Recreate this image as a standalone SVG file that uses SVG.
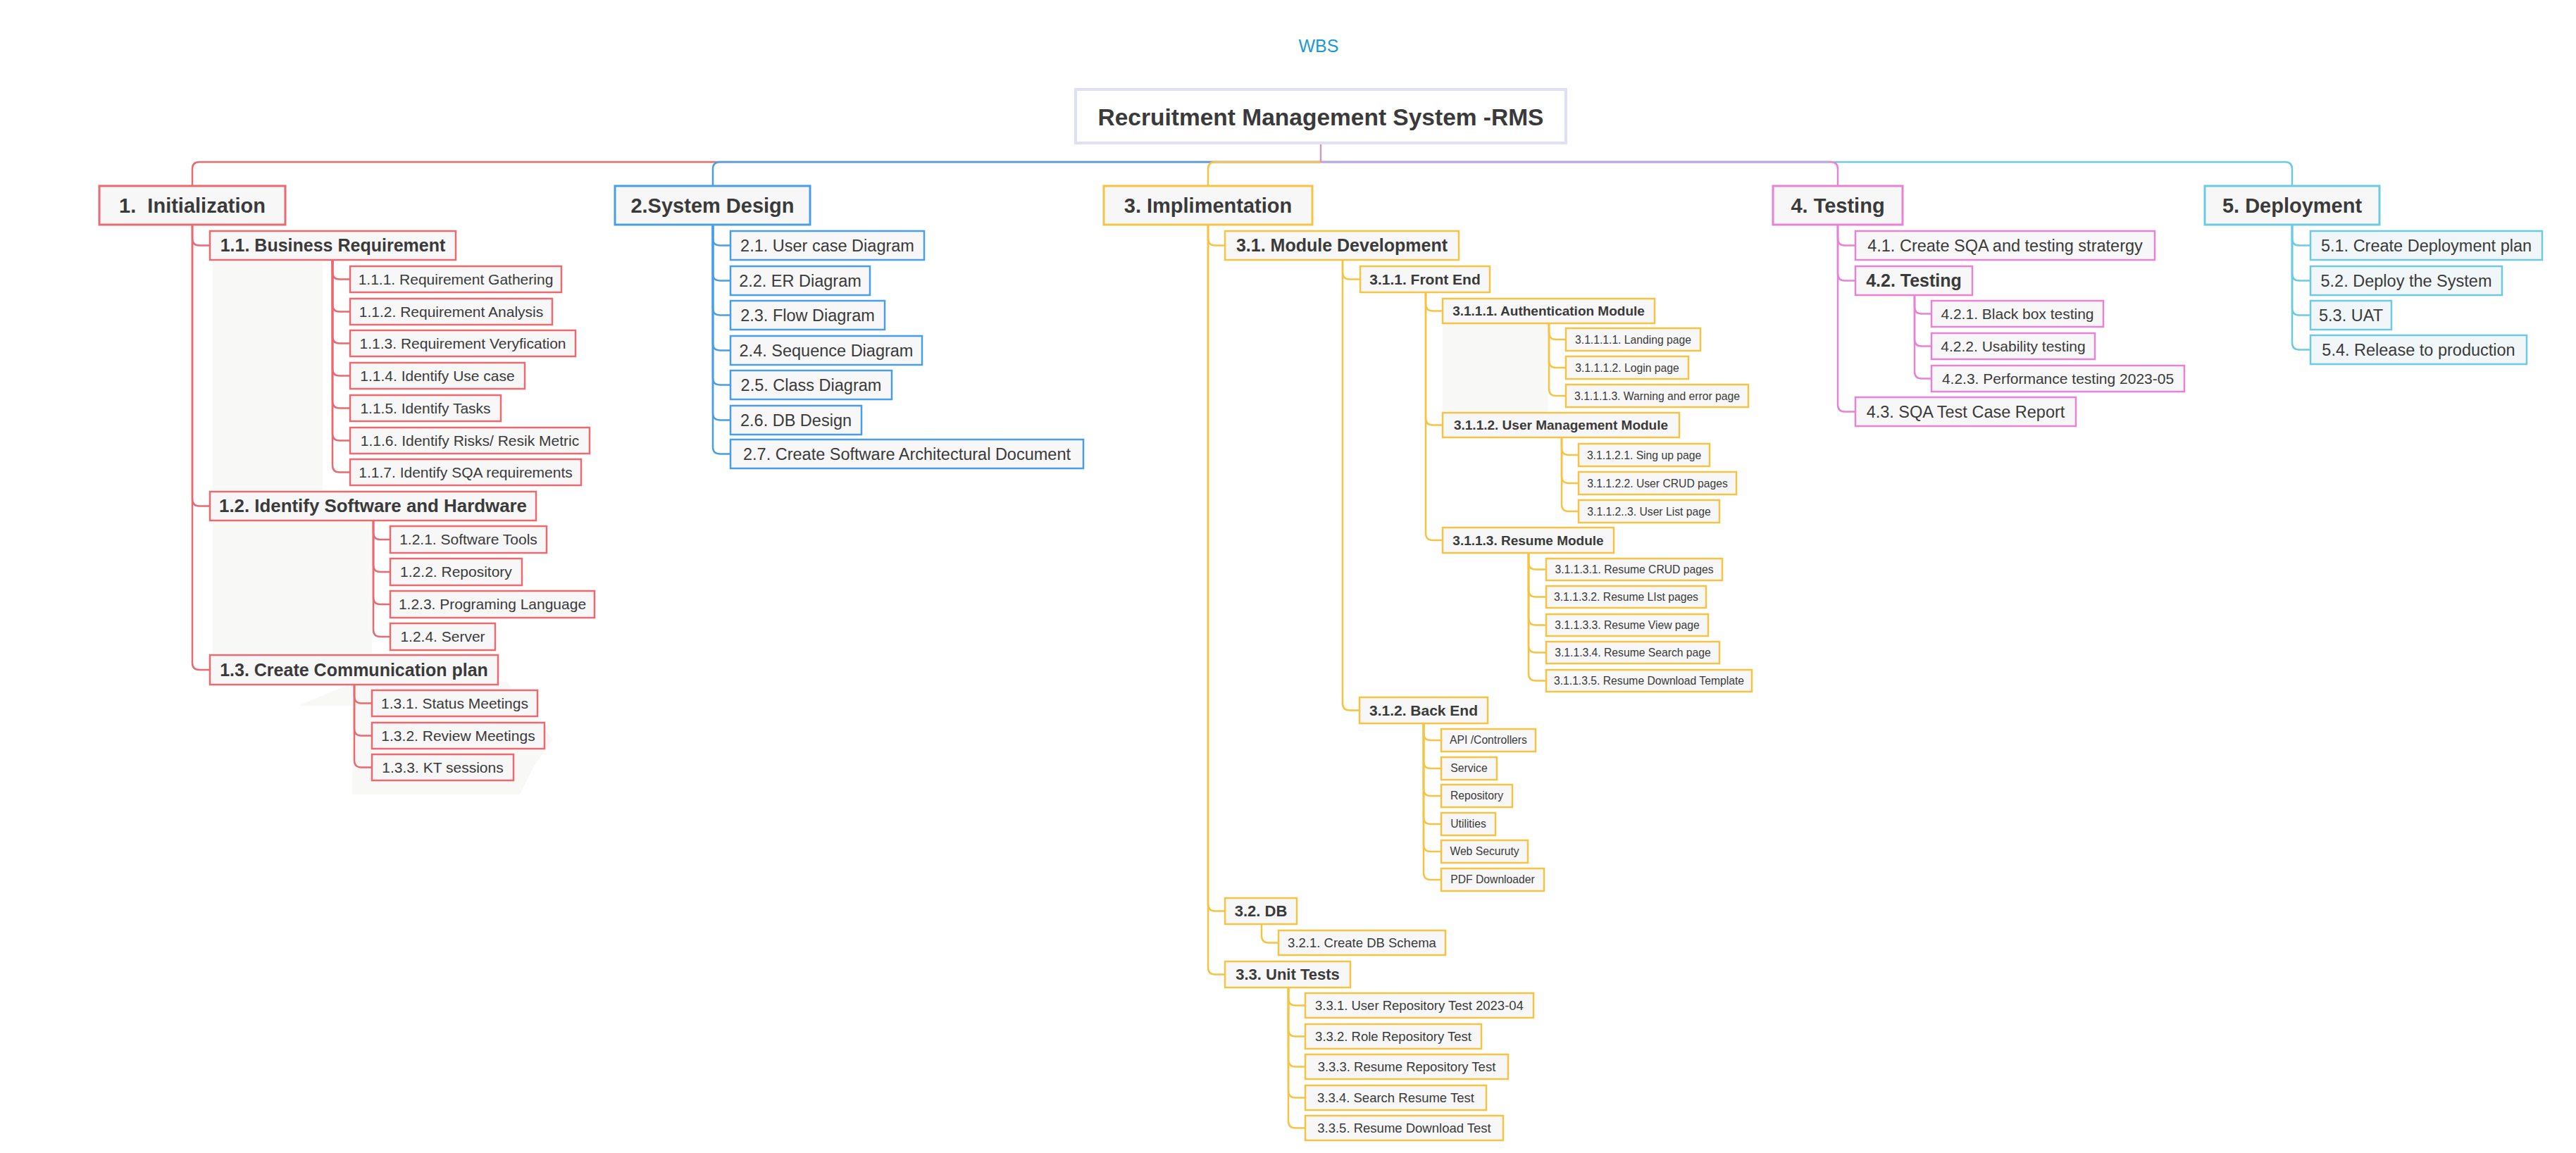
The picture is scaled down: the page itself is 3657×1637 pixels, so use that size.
<svg xmlns="http://www.w3.org/2000/svg" width="3657" height="1637" viewBox="0 0 3657 1637">
<style>
text{font-family:"Liberation Sans",Arial,sans-serif;fill:#3a3a3a;text-anchor:middle}
.t0{font-size:25px;fill:#1a9ad6}
.tr{font-size:33.5px;font-weight:bold}
.t1{font-size:29px;font-weight:bold}
.t2b{font-size:25px;font-weight:bold}
.t2{font-size:23.5px}
.t3{font-size:21px}
.t3b{font-size:21px;font-weight:bold}
.t3c{font-size:22px;font-weight:bold}
.t4b{font-size:19px;font-weight:bold}
.t4{font-size:18.5px}
.t5{font-size:15.7px}
rect{fill:#f7f7f7;stroke-width:2.5}
.L1{stroke-width:3}
.r rect{stroke:#e96a70}
.b rect{stroke:#4a9ee6}
.y rect{stroke:#f5c445}
.p rect{stroke:#e882d4}
.c rect{stroke:#6ccbe0}
.c .s{fill:#f1f7f8}
#connectors path{fill:none;stroke-width:2.5}
.cr{stroke:#e96a70}.cb{stroke:#4a9ee6}.cy{stroke:#f5c445}.cp{stroke:#e882d4}.cc{stroke:#6ccbe0}
.bg{fill:#f8f8f7;stroke:none}
</style>
<rect x="0" y="0" width="3657" height="1637" style="fill:#ffffff;stroke:none"/>
<g id="background">
<rect class="bg" x="302" y="371" width="156" height="324"/>
<rect class="bg" x="302" y="741" width="226" height="187"/>
<polygon class="bg" points="423,1002 505,968 720,968 785,1050 758,1088 738,1128 500,1128 500,1002"/>
<rect class="bg" x="2048" y="460" width="150" height="126"/>
</g>
<text id="title" class="t0" x="1872" y="74">WBS</text>
<g id="connectors">
<path class="cr" d="M1875,230 H283 Q273,230 273,240 V264"/>
<path class="cb" d="M1875,230 H1022 Q1012,230 1012,240 V264"/>
<path class="cy" d="M1875,230 H1725 Q1715,230 1715,240 V264"/>
<path class="cc" d="M1875,230 H3244 Q3254,230 3254,240 V264"/>
<path class="cp" d="M1875,230 H2599 Q2609,230 2609,240 V264"/>
<path style="stroke:#b8a8e2" d="M1877,230 H2596"/>
<path style="stroke:#d39ac0" d="M1875,203 V230"/>
<!-- branch 1 -->
<path class="cr" d="M273,319 V338.5 Q273,348.5 283,348.5 H298"/>
<path class="cr" d="M273,319 V708.5 Q273,718.5 283,718.5 H298"/>
<path class="cr" d="M273,319 V941 Q273,951 283,951 H298"/>
<path class="cr" d="M472,369 V386.5 Q472,396.5 482,396.5 H497"/>
<path class="cr" d="M472,369 V432.5 Q472,442.5 482,442.5 H497"/>
<path class="cr" d="M472,369 V477.5 Q472,487.5 482,487.5 H497"/>
<path class="cr" d="M472,369 V523.5 Q472,533.5 482,533.5 H497"/>
<path class="cr" d="M472,369 V569.5 Q472,579.5 482,579.5 H497"/>
<path class="cr" d="M472,369 V615.5 Q472,625.5 482,625.5 H497"/>
<path class="cr" d="M472,369 V660.5 Q472,670.5 482,670.5 H497"/>
<path class="cr" d="M530,739 V756 Q530,766 540,766 H554"/>
<path class="cr" d="M530,739 V802 Q530,812 540,812 H554"/>
<path class="cr" d="M530,739 V848 Q530,858 540,858 H554"/>
<path class="cr" d="M530,739 V894 Q530,904 540,904 H554"/>
<path class="cr" d="M503,972 V988.5 Q503,998.5 513,998.5 H528"/>
<path class="cr" d="M503,972 V1034.5 Q503,1044.5 513,1044.5 H528"/>
<path class="cr" d="M503,972 V1079.5 Q503,1089.5 513,1089.5 H528"/>
<!-- branch 2 -->
<path class="cb" d="M1012,319 V338.5 Q1012,348.5 1022,348.5 H1037"/>
<path class="cb" d="M1012,319 V388.5 Q1012,398.5 1022,398.5 H1037"/>
<path class="cb" d="M1012,319 V437.5 Q1012,447.5 1022,447.5 H1037"/>
<path class="cb" d="M1012,319 V487.5 Q1012,497.5 1022,497.5 H1037"/>
<path class="cb" d="M1012,319 V536.5 Q1012,546.5 1022,546.5 H1037"/>
<path class="cb" d="M1012,319 V586.5 Q1012,596.5 1022,596.5 H1037"/>
<path class="cb" d="M1012,319 V634.5 Q1012,644.5 1022,644.5 H1037"/>
<!-- branch 3 -->
<path class="cy" d="M1715,319 V338.5 Q1715,348.5 1725,348.5 H1739"/>
<path class="cy" d="M1715,319 V1283.5 Q1715,1293.5 1725,1293.5 H1739"/>
<path class="cy" d="M1715,319 V1373.5 Q1715,1383.5 1725,1383.5 H1739"/>
<path class="cy" d="M1906,369 V386.5 Q1906,396.5 1916,396.5 H1931"/>
<path class="cy" d="M1906,369 V998.5 Q1906,1008.5 1916,1008.5 H1930"/>
<path class="cy" d="M2024,415 V431.5 Q2024,441.5 2034,441.5 H2048"/>
<path class="cy" d="M2024,415 V593.5 Q2024,603.5 2034,603.5 H2048"/>
<path class="cy" d="M2024,415 V757 Q2024,767 2034,767 H2048"/>
<path class="cy" d="M2199,459 V472 Q2199,482 2209,482 H2223"/>
<path class="cy" d="M2199,459 V512 Q2199,522 2209,522 H2223"/>
<path class="cy" d="M2199,459 V552 Q2199,562 2209,562 H2223"/>
<path class="cy" d="M2217,621 V636 Q2217,646 2227,646 H2241"/>
<path class="cy" d="M2217,621 V676 Q2217,686 2227,686 H2241"/>
<path class="cy" d="M2217,621 V716 Q2217,726 2227,726 H2241"/>
<path class="cy" d="M2170,785 V798.5 Q2170,808.5 2180,808.5 H2195"/>
<path class="cy" d="M2170,785 V837.5 Q2170,847.5 2180,847.5 H2195"/>
<path class="cy" d="M2170,785 V877.5 Q2170,887.5 2180,887.5 H2195"/>
<path class="cy" d="M2170,785 V916.5 Q2170,926.5 2180,926.5 H2195"/>
<path class="cy" d="M2170,785 V956.5 Q2170,966.5 2180,966.5 H2195"/>
<path class="cy" d="M2021,1027 V1041 Q2021,1051 2031,1051 H2046"/>
<path class="cy" d="M2021,1027 V1081 Q2021,1091 2031,1091 H2046"/>
<path class="cy" d="M2021,1027 V1120 Q2021,1130 2031,1130 H2046"/>
<path class="cy" d="M2021,1027 V1160 Q2021,1170 2031,1170 H2046"/>
<path class="cy" d="M2021,1027 V1199 Q2021,1209 2031,1209 H2046"/>
<path class="cy" d="M2021,1027 V1239 Q2021,1249 2031,1249 H2046"/>
<path class="cy" d="M1791,1312 V1328.5 Q1791,1338.5 1801,1338.5 H1815"/>
<path class="cy" d="M1829,1402 V1417.5 Q1829,1427.5 1839,1427.5 H1853"/>
<path class="cy" d="M1829,1402 V1461.5 Q1829,1471.5 1839,1471.5 H1853"/>
<path class="cy" d="M1829,1402 V1504.5 Q1829,1514.5 1839,1514.5 H1853"/>
<path class="cy" d="M1829,1402 V1548.5 Q1829,1558.5 1839,1558.5 H1853"/>
<path class="cy" d="M1829,1402 V1591.5 Q1829,1601.5 1839,1601.5 H1853"/>
<!-- branch 4 -->
<path class="cp" d="M2609,319 V338.5 Q2609,348.5 2619,348.5 H2634"/>
<path class="cp" d="M2609,319 V388.5 Q2609,398.5 2619,398.5 H2634"/>
<path class="cp" d="M2609,319 V574.5 Q2609,584.5 2619,584.5 H2634"/>
<path class="cp" d="M2718,419 V435.5 Q2718,445.5 2728,445.5 H2742"/>
<path class="cp" d="M2718,419 V481.5 Q2718,491.5 2728,491.5 H2742"/>
<path class="cp" d="M2718,419 V527.5 Q2718,537.5 2728,537.5 H2742"/>
<!-- branch 5 -->
<path class="cc" d="M3254,319 V338.5 Q3254,348.5 3264,348.5 H3280"/>
<path class="cc" d="M3254,319 V388.5 Q3254,398.5 3264,398.5 H3280"/>
<path class="cc" d="M3254,319 V437.5 Q3254,447.5 3264,447.5 H3280"/>
<path class="cc" d="M3254,319 V486.5 Q3254,496.5 3264,496.5 H3280"/>
</g>
<g id="n-root"><rect x="1527" y="127" width="696" height="76" style="stroke:#dfe0f8;stroke-width:4;fill:#ffffff"/><text class="tr" x="1875" y="177.5">Recruitment Management System -RMS</text></g>
<!-- Branch 1 -->
<g class="r">
<g id="n1"><rect class="L1" x="141" y="264" width="264" height="55"/><text class="t1" x="273" y="302" xml:space="preserve">1.  Initialization</text></g>
<g id="n1-1"><rect x="298" y="328" width="349" height="41"/><text class="t2b" x="472.5" y="357">1.1. Business Requirement</text></g>
<g id="n1-1-1"><rect x="497" y="378" width="300" height="37"/><text class="t3" x="647" y="404">1.1.1. Requirement Gathering</text></g>
<g id="n1-1-2"><rect x="497" y="424" width="287" height="37"/><text class="t3" x="640.5" y="450">1.1.2. Requirement Analysis</text></g>
<g id="n1-1-3"><rect x="497" y="469" width="320" height="37"/><text class="t3" x="657" y="495">1.1.3. Requirement Veryfication</text></g>
<g id="n1-1-4"><rect x="497" y="515" width="248" height="37"/><text class="t3" x="621" y="541">1.1.4. Identify Use case</text></g>
<g id="n1-1-5"><rect x="497" y="561" width="214" height="37"/><text class="t3" x="604" y="587">1.1.5. Identify Tasks</text></g>
<g id="n1-1-6"><rect x="497" y="607" width="340" height="37"/><text class="t3" x="667" y="633">1.1.6. Identify Risks/ Resik Metric</text></g>
<g id="n1-1-7"><rect x="497" y="652" width="328" height="37"/><text class="t3" x="661" y="678">1.1.7. Identify SQA requirements</text></g>
<g id="n1-2"><rect x="298" y="698" width="463" height="41"/><text class="t2b" x="529.5" y="727.3" textLength="437" lengthAdjust="spacingAndGlyphs">1.2. Identify Software and Hardware</text></g>
<g id="n1-2-1"><rect x="554" y="747" width="222" height="38"/><text class="t3" x="665" y="773.4">1.2.1. Software Tools</text></g>
<g id="n1-2-2"><rect x="554" y="793" width="187" height="38"/><text class="t3" x="647.5" y="819.4">1.2.2. Repository</text></g>
<g id="n1-2-3"><rect x="554" y="839" width="290" height="38"/><text class="t3" x="699" y="865.4">1.2.3. Programing Language</text></g>
<g id="n1-2-4"><rect x="554" y="885" width="149" height="38"/><text class="t3" x="628.5" y="911.4">1.2.4. Server</text></g>
<g id="n1-3"><rect x="298" y="930" width="409" height="42"/><text class="t2b" x="502.5" y="959.8">1.3. Create Communication plan</text></g>
<g id="n1-3-1"><rect x="528" y="980" width="235" height="37"/><text class="t3" x="645.5" y="1005.9">1.3.1. Status Meetings</text></g>
<g id="n1-3-2"><rect x="528" y="1026" width="245" height="37"/><text class="t3" x="650.5" y="1051.9">1.3.2. Review Meetings</text></g>
<g id="n1-3-3"><rect x="528" y="1071" width="201" height="37"/><text class="t3" x="628.5" y="1096.9">1.3.3. KT sessions</text></g>
</g>
<!-- Branch 2 -->
<g class="b">
<g id="n2"><rect class="L1" x="873" y="264" width="277" height="55"/><text class="t1" x="1011.5" y="302">2.System Design</text></g>
<g id="n2-1"><rect x="1037" y="328" width="275" height="41"/><text class="t2" x="1174.5" y="356.7">2.1. User case Diagram</text></g>
<g id="n2-2"><rect x="1037" y="378" width="198" height="41"/><text class="t2" x="1136" y="406.7">2.2. ER Diagram</text></g>
<g id="n2-3"><rect x="1037" y="427" width="219" height="41"/><text class="t2" x="1146.5" y="455.7">2.3. Flow Diagram</text></g>
<g id="n2-4"><rect x="1037" y="477" width="272" height="41"/><text class="t2" x="1173" y="505.7">2.4. Sequence Diagram</text></g>
<g id="n2-5"><rect x="1037" y="526" width="229" height="41"/><text class="t2" x="1151.5" y="554.7">2.5. Class Diagram</text></g>
<g id="n2-6"><rect x="1037" y="576" width="186" height="41"/><text class="t2" x="1130" y="604.7">2.6. DB Design</text></g>
<g id="n2-7"><rect x="1037" y="624" width="501" height="41"/><text class="t2" x="1287.5" y="652.7">2.7. Create Software Architectural Document</text></g>
</g>
<!-- Branch 3 -->
<g class="y">
<g id="n3"><rect class="L1" x="1567" y="264" width="296" height="55"/><text class="t1" x="1715" y="302">3. Implimentation</text></g>
<g id="n3-1"><rect x="1739" y="328" width="332" height="41"/><text class="t2b" x="1905" y="357">3.1. Module Development</text></g>
<g id="n3-1-1"><rect x="1931" y="378" width="184" height="37"/><text class="t3b" x="2023" y="403.9">3.1.1. Front End</text></g>
<g id="n3-1-1-1"><rect x="2048" y="424" width="301" height="35"/><text class="t4b" x="2198.5" y="448.2">3.1.1.1. Authentication Module</text></g>
<g id="n3-1-1-1-1"><rect x="2223" y="466" width="191" height="32"/><text class="t5" x="2318.5" y="487.5">3.1.1.1.1. Landing page</text></g>
<g id="n3-1-1-1-2"><rect x="2223" y="506" width="174" height="32"/><text class="t5" x="2310" y="527.5">3.1.1.1.2. Login page</text></g>
<g id="n3-1-1-1-3"><rect x="2223" y="546" width="259" height="32"/><text class="t5" x="2352.5" y="567.5">3.1.1.1.3. Warning and error page</text></g>
<g id="n3-1-1-2"><rect x="2048" y="586" width="336" height="35"/><text class="t4b" x="2216" y="610.2">3.1.1.2. User Management Module</text></g>
<g id="n3-1-1-2-1"><rect x="2241" y="630" width="186" height="32"/><text class="t5" x="2334" y="651.5">3.1.1.2.1. Sing up page</text></g>
<g id="n3-1-1-2-2"><rect x="2241" y="670" width="224" height="32"/><text class="t5" x="2353" y="691.5">3.1.1.2.2. User CRUD pages</text></g>
<g id="n3-1-1-2-3"><rect x="2241" y="710" width="200" height="32"/><text class="t5" x="2341" y="731.5">3.1.1.2..3. User List page</text></g>
<g id="n3-1-1-3"><rect x="2048" y="749" width="243" height="36"/><text class="t4b" x="2169.5" y="773.7">3.1.1.3. Resume Module</text></g>
<g id="n3-1-1-3-1"><rect x="2195" y="793" width="250" height="31"/><text class="t5" x="2320" y="814">3.1.1.3.1. Resume CRUD pages</text></g>
<g id="n3-1-1-3-2"><rect x="2195" y="832" width="227" height="31"/><text class="t5" x="2308.5" y="853">3.1.1.3.2. Resume LIst pages</text></g>
<g id="n3-1-1-3-3"><rect x="2195" y="872" width="230" height="31"/><text class="t5" x="2310" y="893">3.1.1.3.3. Resume View page</text></g>
<g id="n3-1-1-3-4"><rect x="2195" y="911" width="246" height="31"/><text class="t5" x="2318" y="932">3.1.1.3.4. Resume Search page</text></g>
<g id="n3-1-1-3-5"><rect x="2195" y="951" width="292" height="31"/><text class="t5" x="2341" y="972">3.1.1.3.5. Resume Download Template</text></g>
<g id="n3-1-2"><rect x="1930" y="990" width="182" height="37"/><text class="t3b" x="2021" y="1015.9">3.1.2. Back End</text></g>
<g id="n3-1-2-1"><rect x="2046" y="1035" width="134" height="32"/><text class="t5" x="2113" y="1056.4">API /Controllers</text></g>
<g id="n3-1-2-2"><rect x="2046" y="1075" width="79" height="32"/><text class="t5" x="2085.5" y="1096.4">Service</text></g>
<g id="n3-1-2-3"><rect x="2046" y="1114" width="101" height="32"/><text class="t5" x="2096.5" y="1135.4">Repository</text></g>
<g id="n3-1-2-4"><rect x="2046" y="1154" width="77" height="32"/><text class="t5" x="2084.5" y="1175.4">Utilities</text></g>
<g id="n3-1-2-5"><rect x="2046" y="1193" width="123" height="32"/><text class="t5" x="2107.5" y="1214.4">Web Securuty</text></g>
<g id="n3-1-2-6"><rect x="2046" y="1233" width="146" height="32"/><text class="t5" x="2119" y="1254.4">PDF Downloader</text></g>
<g id="n3-2"><rect x="1739" y="1275" width="102" height="37"/><text class="t3c" x="1790" y="1301.2">3.2. DB</text></g>
<g id="n3-2-1"><rect x="1815" y="1321" width="237" height="35"/><text class="t4" x="1933.5" y="1345">3.2.1. Create DB Schema</text></g>
<g id="n3-3"><rect x="1739" y="1365" width="178" height="37"/><text class="t3c" x="1828" y="1391.2">3.3. Unit Tests</text></g>
<g id="n3-3-1"><rect x="1853" y="1410" width="324" height="35"/><text class="t4" x="2015" y="1434">3.3.1. User Repository Test 2023-04</text></g>
<g id="n3-3-2"><rect x="1853" y="1454" width="250" height="35"/><text class="t4" x="1978" y="1478">3.3.2. Role Repository Test</text></g>
<g id="n3-3-3"><rect x="1853" y="1497" width="288" height="35"/><text class="t4" x="1997" y="1521">3.3.3. Resume Repository Test</text></g>
<g id="n3-3-4"><rect x="1853" y="1541" width="257" height="35"/><text class="t4" x="1981.5" y="1565">3.3.4. Search Resume Test</text></g>
<g id="n3-3-5"><rect x="1853" y="1584" width="281" height="35"/><text class="t4" x="1993.5" y="1608">3.3.5. Resume Download Test</text></g>
</g>
<!-- Branch 4 -->
<g class="p">
<g id="n4"><rect class="L1" x="2517" y="264" width="184" height="55"/><text class="t1" x="2609" y="302">4. Testing</text></g>
<g id="n4-1"><rect x="2634" y="328" width="425" height="41"/><text class="t2" x="2846.5" y="356.7">4.1. Create SQA and testing stratergy</text></g>
<g id="n4-2"><rect x="2634" y="378" width="166" height="41"/><text class="t2b" x="2717" y="407.3">4.2. Testing</text></g>
<g id="n4-2-1"><rect x="2742" y="427" width="244" height="37"/><text class="t3" x="2864" y="452.9">4.2.1. Black box testing</text></g>
<g id="n4-2-2"><rect x="2742" y="473" width="232" height="37"/><text class="t3" x="2858" y="498.9">4.2.2. Usability testing</text></g>
<g id="n4-2-3"><rect x="2742" y="519" width="359" height="37"/><text class="t3" x="2921.5" y="544.9">4.2.3. Performance testing 2023-05</text></g>
<g id="n4-3"><rect x="2634" y="564" width="313" height="41"/><text class="t2" x="2790.5" y="592.7">4.3. SQA Test Case Report</text></g>
</g>
<!-- Branch 5 -->
<g class="c">
<g id="n5"><rect class="L1" x="3130" y="264" width="248" height="55"/><text class="t1" x="3254" y="302">5. Deployment</text></g>
<g id="n5-1"><rect class="s" x="3280" y="328" width="329" height="41"/><text class="t2" x="3444.5" y="356.7">5.1. Create Deployment plan</text></g>
<g id="n5-2"><rect class="s" x="3280" y="378" width="272" height="41"/><text class="t2" x="3416" y="406.7">5.2. Deploy the System</text></g>
<g id="n5-3"><rect class="s" x="3280" y="427" width="115" height="41"/><text class="t2" x="3337.5" y="455.7">5.3. UAT</text></g>
<g id="n5-4"><rect class="s" x="3280" y="476" width="307" height="41"/><text class="t2" x="3433.5" y="504.7">5.4. Release to production</text></g>
</g>
</svg>
